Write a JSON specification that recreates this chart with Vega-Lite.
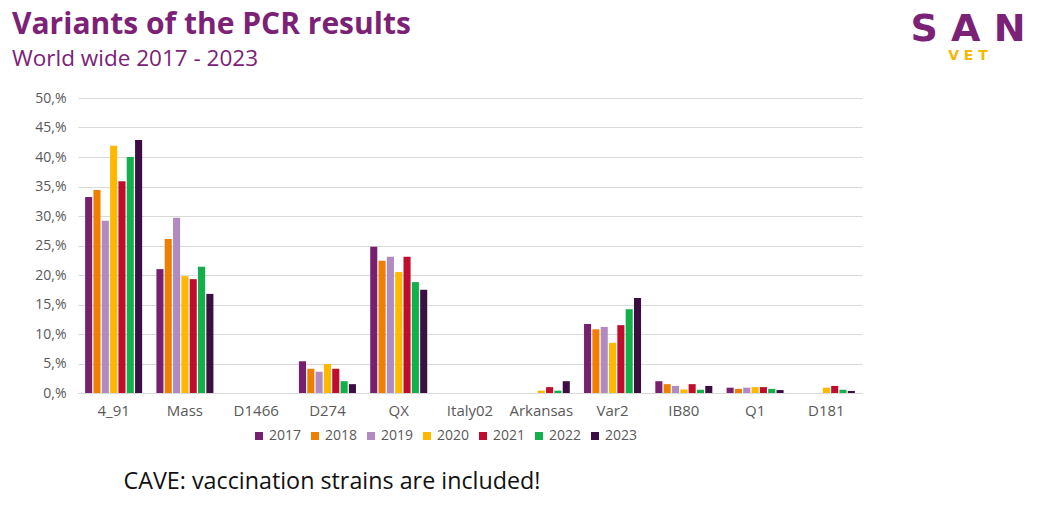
{
  "$schema": "https://vega.github.io/schema/vega-lite/v6.json",
  "autosize": {"type": "none"},
  "padding": {"left": 78, "top": 98, "right": 179, "bottom": 120},
  "width": 784,
  "height": 295,
  "background": "white",
  "config": {"view": {"stroke": null}, "font": "Open Sans"},
  "title": {
    "text": "Variants of the PCR results",
    "subtitle": "World wide 2017 - 2023",
    "anchor": "start",
    "frame": "group",
    "dx": -66,
    "offset": -59,
    "font": "Open Sans",
    "fontSize": 30,
    "fontWeight": "bold",
    "color": "#7B2277",
    "subtitleFont": "Open Sans",
    "subtitleFontSize": 22.5,
    "subtitleColor": "#7B2277",
    "subtitlePadding": 8
  },
  "data": {"values": [
    {"v":"4_91","yr":"2017","p":33.2},{"v":"4_91","yr":"2018","p":34.4},{"v":"4_91","yr":"2019","p":29.2},{"v":"4_91","yr":"2020","p":41.9},{"v":"4_91","yr":"2021","p":35.9},{"v":"4_91","yr":"2022","p":40.0},{"v":"4_91","yr":"2023","p":42.9},
    {"v":"Mass","yr":"2017","p":21.0},{"v":"Mass","yr":"2018","p":26.1},{"v":"Mass","yr":"2019","p":29.7},{"v":"Mass","yr":"2020","p":19.8},{"v":"Mass","yr":"2021","p":19.3},{"v":"Mass","yr":"2022","p":21.4},{"v":"Mass","yr":"2023","p":16.8},
    {"v":"D1466","yr":"2017","p":0},{"v":"D1466","yr":"2018","p":0},{"v":"D1466","yr":"2019","p":0},{"v":"D1466","yr":"2020","p":0},{"v":"D1466","yr":"2021","p":0},{"v":"D1466","yr":"2022","p":0},{"v":"D1466","yr":"2023","p":0},
    {"v":"D274","yr":"2017","p":5.4},{"v":"D274","yr":"2018","p":4.1},{"v":"D274","yr":"2019","p":3.6},{"v":"D274","yr":"2020","p":4.9},{"v":"D274","yr":"2021","p":4.1},{"v":"D274","yr":"2022","p":2.0},{"v":"D274","yr":"2023","p":1.5},
    {"v":"QX","yr":"2017","p":24.8},{"v":"QX","yr":"2018","p":22.4},{"v":"QX","yr":"2019","p":23.1},{"v":"QX","yr":"2020","p":20.5},{"v":"QX","yr":"2021","p":23.1},{"v":"QX","yr":"2022","p":18.8},{"v":"QX","yr":"2023","p":17.5},
    {"v":"Italy02","yr":"2017","p":0},{"v":"Italy02","yr":"2018","p":0},{"v":"Italy02","yr":"2019","p":0},{"v":"Italy02","yr":"2020","p":0},{"v":"Italy02","yr":"2021","p":0},{"v":"Italy02","yr":"2022","p":0},{"v":"Italy02","yr":"2023","p":0},
    {"v":"Arkansas","yr":"2017","p":0},{"v":"Arkansas","yr":"2018","p":0},{"v":"Arkansas","yr":"2019","p":0},{"v":"Arkansas","yr":"2020","p":0.4},{"v":"Arkansas","yr":"2021","p":1.0},{"v":"Arkansas","yr":"2022","p":0.4},{"v":"Arkansas","yr":"2023","p":2.0},
    {"v":"Var2","yr":"2017","p":11.7},{"v":"Var2","yr":"2018","p":10.8},{"v":"Var2","yr":"2019","p":11.2},{"v":"Var2","yr":"2020","p":8.5},{"v":"Var2","yr":"2021","p":11.5},{"v":"Var2","yr":"2022","p":14.2},{"v":"Var2","yr":"2023","p":16.1},
    {"v":"IB80","yr":"2017","p":2.0},{"v":"IB80","yr":"2018","p":1.5},{"v":"IB80","yr":"2019","p":1.2},{"v":"IB80","yr":"2020","p":0.6},{"v":"IB80","yr":"2021","p":1.5},{"v":"IB80","yr":"2022","p":0.55},{"v":"IB80","yr":"2023","p":1.2},
    {"v":"Q1","yr":"2017","p":0.9},{"v":"Q1","yr":"2018","p":0.7},{"v":"Q1","yr":"2019","p":0.9},{"v":"Q1","yr":"2020","p":1.0},{"v":"Q1","yr":"2021","p":1.0},{"v":"Q1","yr":"2022","p":0.7},{"v":"Q1","yr":"2023","p":0.5},
    {"v":"D181","yr":"2017","p":0},{"v":"D181","yr":"2018","p":0},{"v":"D181","yr":"2019","p":0},{"v":"D181","yr":"2020","p":0.9},{"v":"D181","yr":"2021","p":1.2},{"v":"D181","yr":"2022","p":0.55},{"v":"D181","yr":"2023","p":0.35}
  ]},
  "layer": [
    {
      "mark": {"type": "bar"},
      "encoding": {
        "x": {
          "field": "v", "type": "nominal", "sort": null,
          "scale": {"paddingInner": 0.2, "paddingOuter": 0.1},
          "axis": {
            "labelAngle": 0, "labelFontSize": 15, "labelColor": "#595959", "labelPadding": 10,
            "ticks": false, "domainColor": "#D9D9D9", "domainWidth": 1,
            "title": "CAVE: vaccination strains are included!",
            "titleFontSize": 23.3, "titleFontWeight": "normal", "titleColor": "#111111",
            "titleAnchor": "start", "titleAlign": "left", "titleX": 45, "titleY": 77,
            "titleFont": "Open Sans"
          }
        },
        "xOffset": {"field": "yr", "type": "nominal", "scale": {"paddingInner": 0.15}},
        "y": {
          "field": "p", "type": "quantitative",
          "scale": {"domain": [0, 50]},
          "axis": {
            "values": [0,5,10,15,20,25,30,35,40,45,50],
            "labelExpr": "datum.value + ',%'",
            "labelFontSize": 14, "labelColor": "#595959", "labelPadding": 12,
            "ticks": false, "domain": false, "gridColor": "#D9D9D9", "title": null
          }
        },
        "color": {
          "field": "yr", "type": "nominal",
          "scale": {"domain": ["2017","2018","2019","2020","2021","2022","2023"],
                    "range": ["#76206F","#EE7F00","#B08AC0","#FFB800","#C00D2E","#12B04A","#3D0E42"]},
          "legend": {
            "title": null, "orient": "none", "direction": "horizontal",
            "legendX": 174, "legendY": 331,
            "symbolType": "square", "symbolSize": 64, "symbolStrokeWidth": 0,
            "labelFontSize": 14, "labelColor": "#595959", "labelOffset": 3,
            "columnPadding": 6
          }
        }
      }
    },
    {
      "data": {"values": [{"t": "S A N"}]},
      "mark": {"type": "text", "font": "DejaVu Sans", "fontWeight": "bold", "fontSize": 38, "color": "#7B2277", "align": "center", "baseline": "alphabetic"},
      "encoding": {"text": {"field": "t"}, "x": {"value": 890}, "y": {"value": -57}}
    },
    {
      "data": {"values": [{"t": "V E T"}]},
      "mark": {"type": "text", "font": "DejaVu Sans", "fontWeight": "bold", "fontSize": 14, "color": "#F5B800", "align": "center", "baseline": "alphabetic"},
      "encoding": {"text": {"field": "t"}, "x": {"value": 890}, "y": {"value": -38}}
    }
  ]
}
